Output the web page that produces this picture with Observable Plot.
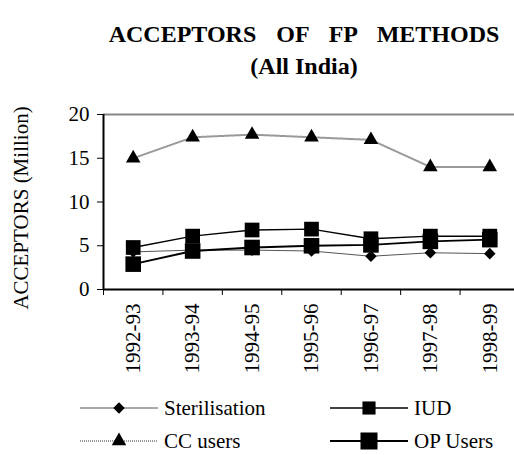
<!DOCTYPE html>
<html>
<head>
<meta charset="utf-8">
<script src="https://cdn.jsdelivr.net/npm/d3@7"></script>
<script src="https://cdn.jsdelivr.net/npm/@observablehq/plot@0.6"></script>
</head>
<body style="margin:0;padding:0;background:#fff;width:514px;height:455px;overflow:hidden;">
<div id="title" style="height:95px;position:relative;"></div>
<div id="chart"></div>
<div id="legend" style="height:80px;"></div>
<script>
const years = ["1992-93", "1993-94", "1994-95", "1995-96", "1996-97", "1997-98", "1998-99"];
const sterilisation = [4.3, 4.5, 4.5, 4.4, 3.8, 4.2, 4.1];
const iud = [4.8, 6.1, 6.8, 6.9, 5.8, 6.1, 6.1];
const ccUsers = [15.0, 17.4, 17.7, 17.4, 17.1, 14.0, 14.0];
const opUsers = [2.9, 4.4, 4.8, 5.0, 5.1, 5.5, 5.7];
const yTicks = [0, 5, 10, 15, 20];
const yLabel = "ACCEPTORS (Million)";
const titleLines = ["ACCEPTORS OF FP METHODS", "(All India)"];

const SERIF = "'Liberation Serif', serif";

// Title
const tEl = document.getElementById("title");
titleLines.forEach((t, k) => {
  const d = document.createElement("div");
  d.style.position = "absolute";
  d.style.left = "0px";
  d.style.width = "608px";
  d.style.textAlign = "center";
  d.style.fontWeight = "bold";
  d.style.fontSize = "24px";
  d.style.fontFamily = SERIF;
  d.style.color = "#000";
  d.style.whiteSpace = "nowrap";
  d.style.top = (k === 0 ? 21 : 53) + "px";
  if (k === 0) d.style.wordSpacing = "14px";
  d.textContent = t;
  tEl.appendChild(d);
});

const seriesNames = ["Sterilisation", "IUD", "CC users", "OP Users"];
const seriesValues = [sterilisation, iud, ccUsers, opUsers];
const styles = {
  "Sterilisation": {stroke: "#555", strokeWidth: 1, dash: null, symbol: "diamond2", r: 5.2, lr: 5.2},
  "IUD": {stroke: "#000", strokeWidth: 1.5, dash: null, symbol: "square", r: 8.3, lr: 7.4},
  "CC users": {stroke: "#999", strokeWidth: 2, dash: "1,1", symbol: "triangle", r: 5.4, lr: 5.4},
  "OP Users": {stroke: "#000", strokeWidth: 2, dash: null, symbol: "square", r: 8.8, lr: 9.6}
};

const rows = [];
seriesNames.forEach((s, k) => years.forEach((yr, i) => rows.push({series: s, i, year: yr, value: seriesValues[k][i]})));

const bounds = d3.range(years.length + 1).map(i => i - 0.5);

const marks = [
  Plot.ruleY([20], {stroke: "#888", strokeWidth: 2}),
  Plot.axisY({ticks: yTicks, tickSize: 6, tickPadding: 8, fontSize: 21, label: null, tickFormat: d => d}),
  Plot.axisX({ticks: bounds, tickSize: 6, tickFormat: () => "", label: null}),
  Plot.axisX({ticks: d3.range(years.length), tickSize: 0, tickPadding: 14, tickRotate: -90, fontSize: 21, tickFormat: i => years[i], label: null}),
  Plot.ruleX([-0.5], {y1: 0, y2: 20, stroke: "#000", strokeWidth: 2}),
  Plot.ruleY([0], {stroke: "#000", strokeWidth: 2}),
  Plot.text([yLabel], {frameAnchor: "left", textAnchor: "middle", rotate: -90, dx: -82, dy: 6, fontSize: 21, fill: "#000"})
];
for (const s of seriesNames) {
  const st = styles[s];
  const d = rows.filter(r => r.series === s);
  marks.push(Plot.line(d, {x: "i", y: "value", stroke: st.stroke, strokeWidth: st.strokeWidth, strokeDasharray: st.dash}));
}
for (const s of seriesNames) {
  const st = styles[s];
  const d = rows.filter(r => r.series === s);
  marks.push(Plot.dot(d, {x: "i", y: "value", symbol: () => st.symbol, r: st.r, fill: "#000", stroke: "none"}));
}

const chart = Plot.plot({
  width: 514,
  height: 280,
  marginTop: 19,
  marginBottom: 86,
  marginLeft: 103,
  marginRight: 0,
  style: {fontSize: "21px", color: "#000", background: "transparent", overflow: "visible", display: "block"},
  x: {type: "linear", domain: [-0.5, years.length - 0.5], range: [103, 519]},
  y: {domain: [0, 20]},
  symbol: {type: "identity"},
  marks
});
chart.setAttribute("font-family", SERIF);
chart.style.fontFamily = SERIF;
chart.querySelectorAll("text").forEach(t => { t.style.fontFamily = SERIF; });
document.getElementById("chart").appendChild(chart);

// Legend
const legendItems = [
  {name: "Sterilisation", x: 80, y: 33},
  {name: "IUD", x: 330, y: 33},
  {name: "CC users", x: 80, y: 66},
  {name: "OP Users", x: 330, y: 66}
];
const symMap = {square: d3.symbolSquare, triangle: d3.symbolTriangle, diamond2: d3.symbolDiamond2 || d3.symbolDiamond};
const lsvg = d3.select("#legend").append("svg").attr("width", 514).attr("height", 80)
  .style("display", "block");
for (const it of legendItems) {
  const st = styles[it.name];
  const g = lsvg.append("g");
  g.append("line").attr("x1", it.x).attr("x2", it.x + 78).attr("y1", it.y).attr("y2", it.y)
    .attr("stroke", st.stroke).attr("stroke-width", st.strokeWidth).attr("stroke-dasharray", st.dash);
  g.append("path").attr("d", d3.symbol(symMap[st.symbol], Math.PI * st.lr * st.lr)())
    .attr("transform", `translate(${it.x + 39},${it.y})`).attr("fill", "#000");
  g.append("text").attr("x", it.x + 84).attr("y", it.y).attr("dy", "0.35em").attr("fill", "#000")
    .style("font-family", SERIF).style("font-size", "21px").text(it.name);
}
</script>
</body>
</html>
